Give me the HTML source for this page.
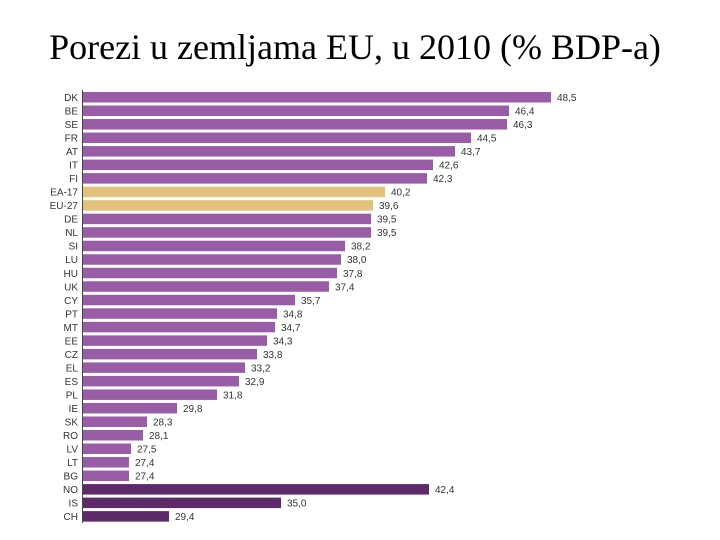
<!DOCTYPE html>
<html><head><meta charset="utf-8"><style>
body{margin:0;background:#fff;width:720px;height:540px;overflow:hidden}
svg{display:block}
</style></head><body>
<svg id="c" width="720" height="540">
<text x="355" y="59" text-anchor="middle" font-family="Liberation Serif, serif" font-size="36" fill="#000">Porezi u zemljama EU, u 2010 (% BDP-a)</text>
<g id="bars"></g>
</svg>
<script>
const categories=["DK","BE","SE","FR","AT","IT","FI","EA-17","EU-27","DE","NL","SI","LU","HU","UK","CY","PT","MT","EE","CZ","EL","ES","PL","IE","SK","RO","LV","LT","BG","NO","IS","CH"];
const values=[48.5,46.4,46.3,44.5,43.7,42.6,42.3,40.2,39.6,39.5,39.5,38.2,38.0,37.8,37.4,35.7,34.8,34.7,34.3,33.8,33.2,32.9,31.8,29.8,28.3,28.1,27.5,27.4,27.4,42.4,35.0,29.4];
const groups=["eu","eu","eu","eu","eu","eu","eu","avg","avg","eu","eu","eu","eu","eu","eu","eu","eu","eu","eu","eu","eu","eu","eu","eu","eu","eu","eu","eu","eu","efta","efta","efta"];
const colors={eu:"#985da6",avg:"#e2c27c",efta:"#5f2a6a"};
const ns="http://www.w3.org/2000/svg";
const g=document.getElementById("bars");
const x=v=>81+(v-25)*20;
const y=i=>92+i*13.52;
const axis=document.createElementNS(ns,"line");
axis.setAttribute("x1",82.5);axis.setAttribute("x2",82.5);axis.setAttribute("y1",90);axis.setAttribute("y2",523);
axis.setAttribute("stroke","#444");axis.setAttribute("stroke-width","1");


g.appendChild(axis);
categories.forEach((c,i)=>{
  const r=document.createElementNS(ns,"rect");
  r.setAttribute("x",83);r.setAttribute("y",y(i));
  r.setAttribute("width",x(values[i])-83);r.setAttribute("height",10.5);
  r.setAttribute("fill",colors[groups[i]]);
  
  
  g.appendChild(r);
  const t=document.createElementNS(ns,"text");
  t.setAttribute("x",78);t.setAttribute("y",y(i)+9);t.setAttribute("text-anchor","end");
  t.setAttribute("font-family","Liberation Sans, sans-serif");t.setAttribute("font-size","10");t.setAttribute("fill","#333");
  t.textContent=c;
  
  
  g.appendChild(t);
  const v=document.createElementNS(ns,"text");
  v.setAttribute("x",x(values[i])+6);v.setAttribute("y",y(i)+9);
  v.setAttribute("font-family","Liberation Sans, sans-serif");v.setAttribute("font-size","10");v.setAttribute("fill","#333");
  v.textContent=values[i].toFixed(1).replace(".",",");
  
  
  g.appendChild(v);
});
</script>
</body></html>
